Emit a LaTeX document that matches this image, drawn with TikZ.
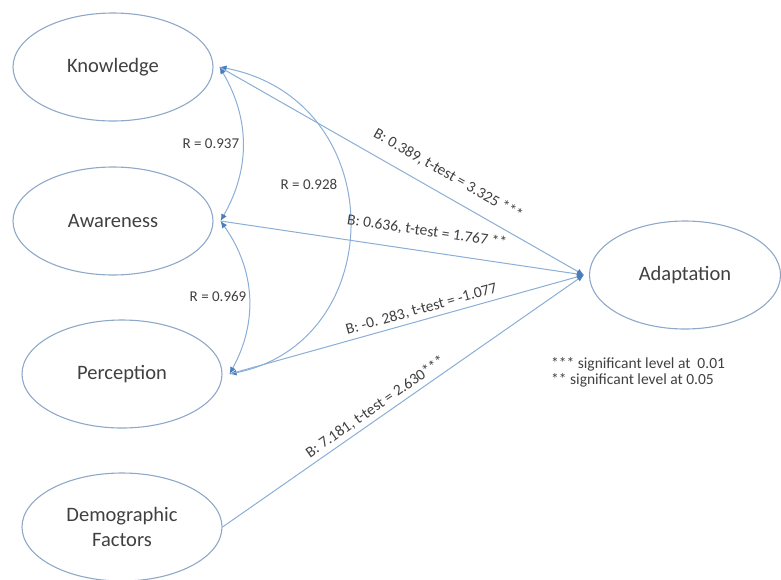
\documentclass[tikz,border=0pt]{standalone}
\usepackage{fontspec}
\setmainfont{Carlito}
\usetikzlibrary{shapes.geometric,arrows.meta}
\definecolor{rim}{HTML}{8FA8C8}
\definecolor{wire}{HTML}{8AAED6}
\definecolor{tipblue}{HTML}{4A7EBB}
\definecolor{ink}{HTML}{404040}

\begin{document}
\begin{tikzpicture}[x=1pt,y=-1pt,
    construct/.style={ellipse,draw=rim,line width=1.1pt,minimum width=200pt,minimum height=108pt,
      text=ink,align=center,font=\fontsize{20.5}{25}\selectfont},
    effect/.style={draw=wire,line width=1pt,-{Latex[length=7pt,width=6pt,color=tipblue]}},
    corr/.style={draw=wire,line width=1pt,{Latex[length=7pt,width=6pt,color=tipblue]}-{Latex[length=7pt,width=6pt,color=tipblue]}},
    coef/.style={sloped,text=ink,inner sep=1pt,font=\fontsize{15.5}{17}\selectfont},
    rlabel/.style={text=ink,inner sep=1pt,font=\fontsize{15}{17}\selectfont}]
      \useasboundingbox (0,0) rectangle (781,579);
      \draw
        (113,67) node[construct] (know){Knowledge}
        (113,221) node[construct] (aware){Awareness}
        (122,374) node[construct] (perc){Perception}
        (122,527) node[construct] (demo){Demographic\\Factors}
        (685,275) node[construct,minimum width=191pt] (adapt){Adaptation};
      \coordinate (kp) at ([xshift=6pt]know.east);
      \coordinate (ap) at ([xshift=7pt]aware.east);
      \coordinate (pp) at ([xshift=7pt]perc.east);
      \coordinate (tp) at ([xshift=-5pt]adapt.west);
      % correlations
      \begin{scope}[corr]
        \draw (kp) to[bend left=30] node[rlabel,left=2pt] {R = 0.937} (ap);
        \draw (ap) to[bend left=32] node[rlabel,left=1pt] {R = 0.969} (pp);
        \draw (kp) .. controls +(172,33) and +(161,-32) .. (pp) node[rlabel,pos=0.41,left=6pt] {R = 0.928};
      \end{scope}
      % paths to adaptation
      \begin{scope}[effect]
        \draw (kp) -- node[coef,pos=0.6,above=12pt] {B: 0.389, t-test = 3.325 ***} (tp);
        \draw (ap) -- node[coef,pos=0.56,above=12pt] {B: 0.636, t-test = 1.767 **} (tp);
        \draw (pp) -- node[coef,pos=0.55,above=3pt] {B: -0. 283, t-test = -1.077} (tp);
        \draw (demo.east) -- node[coef,pos=0.44,above=3pt] {B: 7.181, t-test = 2.630***} (tp);
      \end{scope}
      \node[anchor=north west,align=left,text=ink,inner sep=0pt,font=\fontsize{15.5}{16.5}\selectfont] (note) at (551,357)
        {*** significant level at\ \ 0.01\\** significant level at 0.05};
\end{tikzpicture}
\end{document}
